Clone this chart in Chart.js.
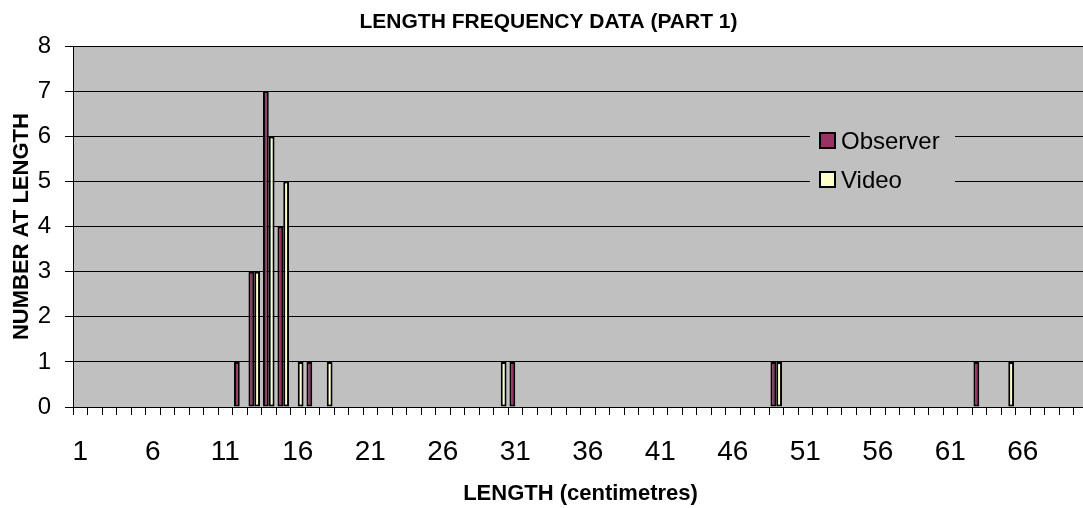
<!DOCTYPE html>
<html>
<head>
<meta charset="utf-8">
<script src="https://cdn.jsdelivr.net/npm/chart.js@4"></script>
<style>
  html, body { margin: 0; padding: 0; background: #fff; overflow: hidden; }
  #wrap { width: 1132px; height: 508px; }
</style>
</head>
<body>
<div id="wrap"><canvas id="chart" width="1132" height="508"></canvas></div>
<script>
// length classes (cm) 1..70
const lengths = [
  1, 2, 3, 4, 5, 6, 7, 8, 9, 10,
  11, 12, 13, 14, 15, 16, 17, 18, 19, 20,
  21, 22, 23, 24, 25, 26, 27, 28, 29, 30,
  31, 32, 33, 34, 35, 36, 37, 38, 39, 40,
  41, 42, 43, 44, 45, 46, 47, 48, 49, 50,
  51, 52, 53, 54, 55, 56, 57, 58, 59, 60,
  61, 62, 63, 64, 65, 66, 67, 68, 69, 70
];

const observer = [
  0, 0, 0, 0, 0, 0, 0, 0, 0, 0,
  0, 1, 3, 7, 4, 0, 1, 0, 0, 0,
  0, 0, 0, 0, 0, 0, 0, 0, 0, 0,
  1, 0, 0, 0, 0, 0, 0, 0, 0, 0,
  0, 0, 0, 0, 0, 0, 0, 0, 1, 0,
  0, 0, 0, 0, 0, 0, 0, 0, 0, 0,
  0, 0, 1, 0, 0, 0, 0, 0, 0, 0
];

const video = [
  0, 0, 0, 0, 0, 0, 0, 0, 0, 0,
  0, 0, 3, 6, 5, 1, 0, 1, 0, 0,
  0, 0, 0, 0, 0, 0, 0, 0, 0, 1,
  0, 0, 0, 0, 0, 0, 0, 0, 0, 0,
  0, 0, 0, 0, 0, 0, 0, 0, 1, 0,
  0, 0, 0, 0, 0, 0, 0, 0, 0, 0,
  0, 0, 0, 0, 1, 0, 0, 0, 0, 0
];

const yTicks = [0, 1, 2, 3, 4, 5, 6, 7, 8];
const labelEvery = 5;

const FONT = "'Liberation Sans', Arial, sans-serif";

// grey plot area
const plotBg = {
  id: 'plotBg',
  beforeDraw(chart) {
    const { ctx, chartArea: a } = chart;
    ctx.save();
    ctx.fillStyle = '#c0c0c0';
    ctx.fillRect(a.left, a.top, a.right - a.left, a.bottom - a.top);
    ctx.restore();
  }
};

// legend box sitting inside the plot, like the Excel one
const innerLegend = {
  id: 'innerLegend',
  afterDatasetsDraw(chart) {
    const ctx = chart.ctx;
    const x = 810, y = 122, w = 145, h = 76;
    ctx.save();
    ctx.fillStyle = '#c0c0c0';
    ctx.fillRect(x, y, w, h);
    ctx.font = '24px ' + FONT;
    ctx.textBaseline = 'middle';
    chart.data.datasets.forEach((ds, i) => {
      const cy = y + 19 + i * 39;
      ctx.fillStyle = ds.backgroundColor;
      ctx.fillRect(x + 10, cy - 8, 15, 15);
      ctx.strokeStyle = '#000';
      ctx.lineWidth = 2;
      ctx.strokeRect(x + 10, cy - 8, 15, 15);
      ctx.fillStyle = '#000';
      ctx.fillText(ds.label, x + 31, cy + 1);
    });
    ctx.restore();
  }
};

const nz = arr => arr.map(v => (v === 0 ? null : v));

new Chart(document.getElementById('chart'), {
  type: 'bar',
  data: {
    labels: lengths,
    datasets: [{
      label: 'Observer',
      data: nz(observer),
      backgroundColor: '#993366',
      borderColor: '#000',
      borderWidth: 2,
      borderSkipped: false
    }, {
      label: 'Video',
      data: nz(video),
      backgroundColor: '#ffffcc',
      borderColor: '#000',
      borderWidth: 2,
      borderSkipped: false
    }]
  },
  options: {
    responsive: false,
    animation: false,
    devicePixelRatio: 1,
    layout: { padding: { left: 9, right: 44, top: 0, bottom: 0 } },
    datasets: { bar: { barPercentage: 1, categoryPercentage: 0.8 } },
    plugins: {
      legend: { display: false },
      tooltip: { enabled: false },
      title: {
        display: true,
        text: 'LENGTH FREQUENCY DATA (PART 1)',
        color: '#000',
        font: { family: FONT, size: 21, weight: 'bold' },
        padding: { top: 10, bottom: 11 }
      }
    },
    scales: {
      x: {
        offset: true,
        grid: {
          offset: true,
          drawOnChartArea: false,
          drawTicks: true,
          tickLength: 8,
          color: '#000'
        },
        border: { color: '#000', width: 1 },
        ticks: {
          autoSkip: false,
          maxRotation: 0,
          padding: 20,
          color: '#000',
          font: { family: FONT, size: 28 },
          callback: (v, i) => (i % labelEvery === 0 ? String(lengths[i]) : '')
        },
        title: {
          display: true,
          text: 'LENGTH (centimetres)',
          color: '#000',
          font: { family: FONT, size: 22, weight: 'bold' },
          padding: { top: 0, bottom: 1 }
        },
        afterFit(scale) { scale.height = 101; }
      },
      y: {
        min: yTicks[0],
        max: yTicks[yTicks.length - 1],
        grid: {
          color: '#000',
          lineWidth: 1,
          drawTicks: true,
          tickLength: 8
        },
        border: { color: '#000', width: 1 },
        ticks: {
          stepSize: 1,
          padding: 14,
          color: '#000',
          font: { family: FONT, size: 24 }
        },
        title: {
          display: true,
          text: 'NUMBER AT LENGTH',
          color: '#000',
          font: { family: FONT, size: 22, weight: 'bold' },
          padding: { top: 0, bottom: 0 }
        },
        afterFit(scale) { scale.width = 64; }
      }
    }
  },
  plugins: [plotBg, innerLegend]
});
</script>
</body>
</html>
